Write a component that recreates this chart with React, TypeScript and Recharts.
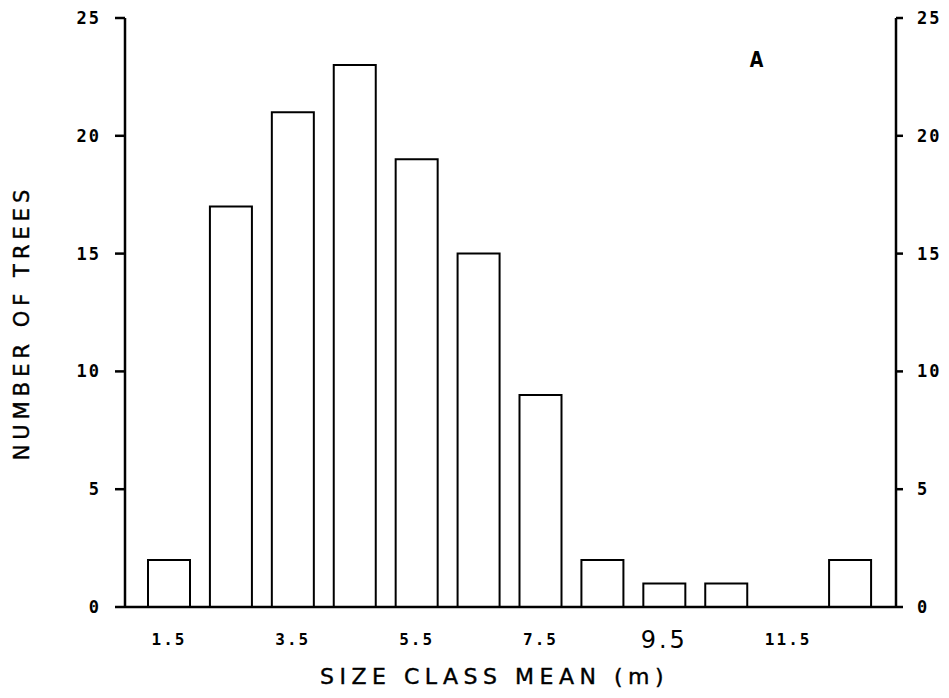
import React from "react";
import { ComposedChart, Bar, Line, XAxis, YAxis } from "recharts";

const sizeClasses = ["1.5", "2.5", "3.5", "4.5", "5.5", "6.5", "7.5", "8.5", "9.5", "10.5", "11.5", "12.5"];
const treeCounts = [2, 17, 21, 23, 19, 15, 9, 2, 1, 1, 0, 2];
const xTickLabels = ["1.5", "3.5", "5.5", "7.5", "9.5", "11.5"];
const yTicks = [0, 5, 10, 15, 20, 25];

const data = sizeClasses.map((s, i) => ({ size: s, count: treeCounts[i] }));

const XTick = (props: any) => {
  const { x, y, payload } = props;
  const special = payload.value === "9.5";
  return (
    <text
      x={x}
      y={y}
      dy={special ? 27 : 24}
      textAnchor="middle"
      fill="#000"
      fontFamily={special ? "DejaVu Sans" : "DejaVu Sans Mono"}
      fontWeight={special ? 400 : 700}
      fontSize={special ? 24 : 16}
      letterSpacing={special ? 3 : 2}
    >
      {payload.value}
    </text>
  );
};

const YTick = (props: any) => {
  const { x, y, payload, textAnchor } = props;
  return (
    <text
      x={x}
      y={y}
      dy={6}
      textAnchor={textAnchor}
      fill="#000"
      fontFamily="DejaVu Sans Mono"
      fontWeight={700}
      fontSize={17}
      letterSpacing={2}
    >
      {payload.value}
    </text>
  );
};

export default function App() {
  return (
    <div style={{ position: "absolute", left: 0, top: 0, width: 949, height: 698, background: "#fff" }}>
      <ComposedChart width={949} height={698} data={data} margin={{ top: 18, right: 0, left: 0, bottom: 0 }}>
        <XAxis
          dataKey="size"
          ticks={xTickLabels}
          interval={0}
          tickLine={false}
          tickSize={0}
          tickMargin={14}
          tick={<XTick />}
          axisLine={{ stroke: "#000", strokeWidth: 2.5 }}
          padding={{ left: 13, right: 15 }}
          height={91}
          label={{
            value: "SIZE CLASS MEAN  (m)",
            position: "insideBottom",
            offset: 14,
            dx: -16,
            style: { fontFamily: "DejaVu Sans", fontSize: 22, letterSpacing: 5.5, fill: "#000", stroke: "#000", strokeWidth: 0.4 },
          }}
        />
        <YAxis
          yAxisId="l"
          domain={[0, 25]}
          ticks={yTicks}
          width={125}
          tickSize={10}
          tickMargin={14}
          tick={<YTick />}
          tickLine={{ stroke: "#000", strokeWidth: 2.5 }}
          axisLine={{ stroke: "#000", strokeWidth: 2.5 }}
          label={{
            value: "NUMBER OF TREES",
            angle: -90,
            position: "insideLeft",
            offset: 22,
            dy: 10,
            style: { fontFamily: "DejaVu Sans", fontSize: 21, letterSpacing: 5, fill: "#000", stroke: "#000", strokeWidth: 0.4, textAnchor: "middle" },
          }}
        />
        <YAxis
          yAxisId="r"
          orientation="right"
          domain={[0, 25]}
          ticks={yTicks}
          width={53}
          tickSize={7}
          tickMargin={14}
          tick={<YTick />}
          tickLine={{ stroke: "#000", strokeWidth: 2.5 }}
          axisLine={{ stroke: "#000", strokeWidth: 2.5 }}
        />
        <Bar
          yAxisId="l"
          dataKey="count"
          fill="#fff"
          stroke="#000"
          strokeWidth={2}
          barSize={42}
          isAnimationActive={false}
        />
        <Line
          yAxisId="r"
          dataKey="count"
          stroke="none"
          dot={false}
          activeDot={false}
          legendType="none"
          isAnimationActive={false}
        />
      </ComposedChart>
      <div
        style={{
          position: "absolute",
          left: 748,
          top: 47,
          fontFamily: "DejaVu Sans",
          fontWeight: 700,
          fontSize: 22,
          color: "#000",
          transform: "scaleX(0.8)",
        }}
      >
        A
      </div>
    </div>
  );
}
